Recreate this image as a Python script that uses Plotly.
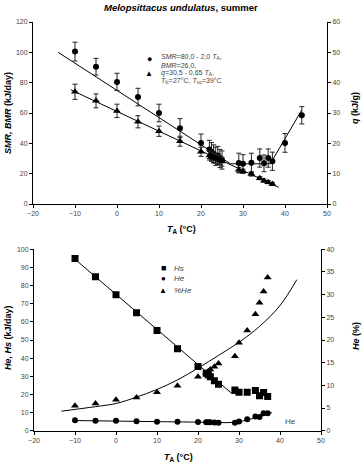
import plotly.graph_objects as go

# ---------------- data: top panel ----------------
smr_T = [-10, -5, 0, 5, 10, 15, 20, 22, 22.5, 23, 23.5, 24, 24.5, 25, 29, 30, 32, 34, 35, 36, 37, 40, 44]
smr = [100.5, 90.5, 80.5, 70.5, 60, 50, 40.3, 36, 34.5, 33, 31.5, 32, 30, 29, 27, 26.5, 27.2, 30.3, 26.8, 30.3, 28.2, 40.3, 58.5]
smr_err = [6.2, 5.5, 5.7, 5.8, 5.8, 6.3, 5.8, 6, 6, 6, 6, 6, 6, 6, 6.5, 6, 6.3, 6, 5.5, 6, 6, 6.2, 5.7]

q_T = [-10, -5, 0, 5, 10, 15, 20, 22, 22.5, 23, 23.5, 24, 24.5, 25, 29, 30, 32, 34, 35, 36, 37]
q = [37, 34, 30.7, 27.1, 24, 20.7, 17.2, 16, 15.6, 15.2, 15, 14.7, 14.4, 14, 11.3, 10.8, 9.9, 8.5, 7.7, 7.2, 6.6]
q_err = [2.5, 2.3, 2.2, 2.0, 1.7, 1.65, 1.5, 1.5, 1.5, 1.5, 1.5, 1.5, 1.5, 1.5, 0.8, 0.7, 0.7, 0.5, 0.5, 0.5, 0.5]

smr_line_T = [-14, 27, 36.5, 44]
smr_line = [100, 26.5, 26.5, 62]
q_line_T = [-11, 38.5]
q_line = [37.65, 5.5]

# ---------------- data: bottom panel ----------------
b_T = [-10, -5, 0, 5, 10, 15, 20, 22, 22.5, 23, 24, 25, 29, 30, 32, 34, 35, 36, 37]
hs = [94.9, 84.9, 75, 65, 55.2, 45.2, 35.4, 31.7, 30.8, 29.8, 27.6, 25.6, 22.5, 21.2, 21.2, 22.1, 19.2, 21, 18.8]
he = [5.7, 5.5, 5.5, 5.2, 5.0, 5.0, 4.8, 4.7, 4.7, 4.7, 4.5, 4.4, 4.4, 5.1, 6.3, 7.8, 7.6, 9.6, 9.6]
phe = [5.5, 6.0, 6.8, 7.3, 8.5, 9.9, 11.9, 12.8, 13.1, 13.5, 14.1, 14.8, 16.4, 19.4, 22.1, 25.7, 28.2, 30.7, 33.8]

hs_line_T = [-10.5, 28.2, 30]
hs_line = [95.5, 20.6, 20.6]
he_line_T = [-10, 0, 10, 20, 25, 29, 32, 35, 38]
he_line = [5.6, 5.3, 5.0, 4.7, 4.5, 4.6, 5.9, 7.8, 10.0]
phe_line_T = [-13.3, -10, -5, 0, 5, 10, 15, 20, 25, 30, 35, 40, 44.1]
phe_line = [4.3, 4.7, 5.3, 6.0, 7.4, 9.1, 11.2, 13.8, 16.6, 19.5, 23.0, 27.6, 33.3]

x_ticks = [-20, -10, 0, 10, 20, 30, 40, 50]

FONT = "Arial, 'Liberation Sans', sans-serif"
GRAY = "#444444"
W, H = 363, 469

fig = go.Figure()

# top panel
fig.add_trace(go.Scatter(x=smr_line_T, y=smr_line, mode="lines", line=dict(color="black", width=1),
                         xaxis="x", yaxis="y", showlegend=False, hoverinfo="skip"))
fig.add_trace(go.Scatter(x=smr_T, y=smr, mode="markers",
                         marker=dict(symbol="circle", size=6, color="black"),
                         error_y=dict(type="data", array=smr_err, color="#222222", thickness=1, width=2.5),
                         xaxis="x", yaxis="y", showlegend=False))
fig.add_trace(go.Scatter(x=q_line_T, y=q_line, mode="lines", line=dict(color="black", width=1),
                         xaxis="x", yaxis="y2", showlegend=False, hoverinfo="skip"))
fig.add_trace(go.Scatter(x=q_T, y=q, mode="markers",
                         marker=dict(symbol="triangle-up", size=7, color="black"),
                         error_y=dict(type="data", array=q_err, color="#222222", thickness=1, width=2.5),
                         xaxis="x", yaxis="y2", showlegend=False))

# bottom panel
fig.add_trace(go.Scatter(x=hs_line_T, y=hs_line, mode="lines", line=dict(color="black", width=1),
                         xaxis="x2", yaxis="y3", showlegend=False, hoverinfo="skip"))
fig.add_trace(go.Scatter(x=he_line_T, y=he_line, mode="lines", line=dict(color="black", width=1, shape="spline"),
                         xaxis="x2", yaxis="y3", showlegend=False, hoverinfo="skip"))
fig.add_trace(go.Scatter(x=phe_line_T, y=phe_line, mode="lines", line=dict(color="black", width=1, shape="spline"),
                         xaxis="x2", yaxis="y4", showlegend=False, hoverinfo="skip"))
fig.add_trace(go.Scatter(x=b_T, y=hs, mode="markers", marker=dict(symbol="square", size=7, color="black"),
                         xaxis="x2", yaxis="y3", showlegend=False))
fig.add_trace(go.Scatter(x=b_T, y=he, mode="markers", marker=dict(symbol="circle", size=6, color="black"),
                         xaxis="x2", yaxis="y3", showlegend=False))
fig.add_trace(go.Scatter(x=b_T, y=phe, mode="markers", marker=dict(symbol="triangle-up", size=7, color="black"),
                         xaxis="x2", yaxis="y4", showlegend=False))

axis_common = dict(showline=True, linecolor="black", linewidth=1, ticks="outside", ticklen=3,
                   tickcolor="black", tickwidth=1, showgrid=False, zeroline=False, automargin=False,
                   tickfont=dict(family=FONT, size=7, color=GRAY))

def px(xp):
    return xp / W

def py(yp):
    return 1 - yp / H

fig.update_layout(
    template="none",
    width=W, height=H, autosize=False,
    margin=dict(l=0, r=0, t=0, b=0, pad=0),
    paper_bgcolor="white", plot_bgcolor="white",
    showlegend=False,
    xaxis=dict(domain=[px(33), px(327)], range=[-20, 50], tickvals=x_ticks, anchor="y", **axis_common),
    yaxis=dict(domain=[py(204), py(22)], range=[0, 120], dtick=20, anchor="x", **axis_common),
    yaxis2=dict(range=[0, 60], dtick=10, overlaying="y", side="right", anchor="x", **axis_common),
    xaxis2=dict(domain=[px(34), px(321)], range=[-20, 50], tickvals=x_ticks, anchor="y3", **axis_common),
    yaxis3=dict(domain=[py(430.7), py(249.3)], range=[0, 100], dtick=10, anchor="x2", **axis_common),
    yaxis4=dict(range=[0, 40], dtick=5, overlaying="y3", side="right", anchor="x2", **axis_common),
)

ann = []
def A(text, x, y, size, color="black", angle=0, xanchor="center", yanchor="middle", align="center"):
    ann.append(dict(text=text, x=x, y=y, xref="paper", yref="paper", showarrow=False,
                    textangle=angle, xanchor=xanchor, yanchor=yanchor, align=align,
                    font=dict(family=FONT, size=size, color=color)))

# titles
A("<b><i>Melopsittacus undulatus</i>, summer</b>", px(181), py(8), 9.5)
A("<b><i>T</i><sub>A</sub> (°C)</b>", px(182), py(229), 9)
A("<b><i>SMR, BMR</i> (kJ/day)</b>", px(8), py(113), 9, angle=-90)
A("<b><i>q</i> (kJ/g)</b>", px(355), py(108), 9, angle=-90)
A("<b><i>T</i><sub>A</sub> (°C)</b>", px(178), py(457), 9)
A("<b><i>He, Hs</i> (kJ/day)</b>", px(8), py(338), 9, angle=-90)
A("<b><i>He</i> (%)</b>", px(356), py(336), 9, angle=-90)

# top legend
A("●", px(149), py(59), 9, xanchor="center")
A("▲", px(149), py(73.5), 8, xanchor="center")
A("<i>SMR</i>=80,0 - 2,0 <i>T</i><sub>A</sub>,", px(159), py(57.3), 7, GRAY, xanchor="left")
A("<i>BMR</i>=26,0,", px(159), py(65), 7, GRAY, xanchor="left")
A("<i>q</i>=30,5 - 0,65 <i>T</i><sub>A</sub>,", px(159), py(72.7), 7, GRAY, xanchor="left")
A("<i>T</i><sub>lc</sub>=27°C, <i>T</i><sub>uc</sub>=39°C", px(159), py(81), 7, GRAY, xanchor="left")

# bottom legend
A("■", px(163.3), py(268.3), 9)
A("●", px(163.3), py(278.3), 8)
A("▲", px(163.3), py(290), 8)
A("<i>Hs</i>", px(172), py(268.3), 8, GRAY, xanchor="left")
A("<i>He</i>", px(172), py(278.3), 8, GRAY, xanchor="left")
A("<i>%He</i>", px(172), py(290), 8, GRAY, xanchor="left")
A("He", px(283), py(421), 8, GRAY, xanchor="left")

fig.update_layout(annotations=ann)
fig.write_html("out.html",
               config={"displayModeBar": False, "staticPlot": True},
               post_script="document.body.style.margin='0';document.body.style.overflow='hidden';")
